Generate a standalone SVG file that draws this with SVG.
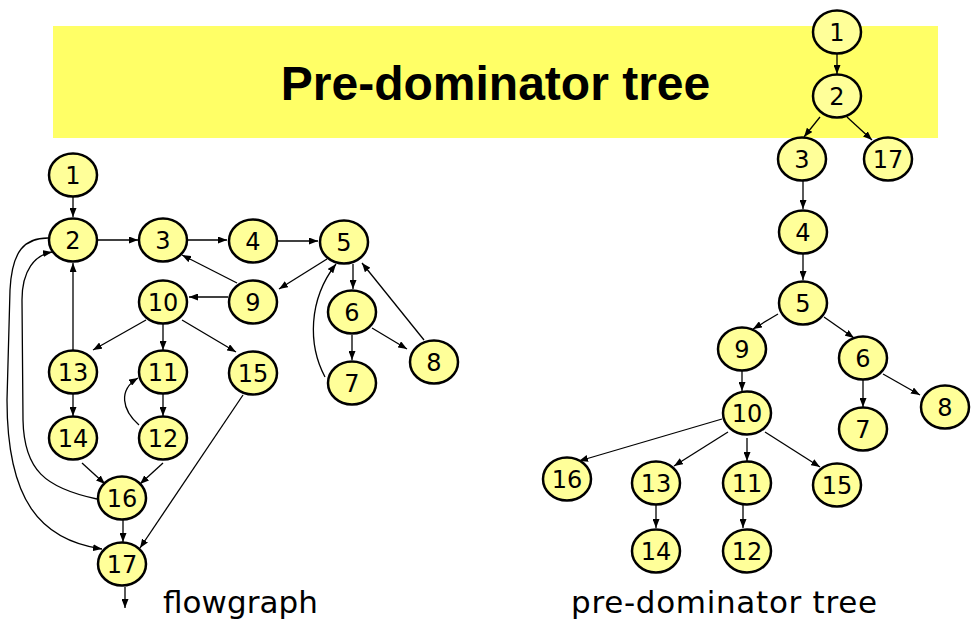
<svg xmlns="http://www.w3.org/2000/svg" width="971" height="623" viewBox="0 0 971 623">
  <style>
    .node ellipse { fill: #FFFF99; stroke: #000; stroke-width: 2.5; }
    .node text { font-family: "DejaVu Sans", Verdana, sans-serif; font-size: 24px; text-anchor: middle; fill: #000; }
    .edges path, .edges line { fill: none; stroke: #000; stroke-width: 1.3; marker-end: url(#arrow); }
    .caption { font-family: "DejaVu Sans", Verdana, sans-serif; font-size: 31px; fill: #000; }
    .title { font-family: "Liberation Sans", Arial, sans-serif; font-weight: bold; font-size: 48px; text-anchor: middle; fill: #000; }
  </style>
  <defs>
    <marker id="arrow" markerUnits="userSpaceOnUse" markerWidth="9" markerHeight="7" refX="9" refY="3.5" orient="auto">
      <path d="M0,0 L9,3.5 L0,7 z" fill="#000"/>
    </marker>
  </defs>

  <rect width="971" height="623" fill="#fff"/>

  <!-- title banner -->
  <rect x="53" y="26" width="885" height="112" fill="#FFFF66"/>
  <text class="title" x="495.5" y="100">Pre-dominator tree</text>

  <!-- connectors -->
  <g class="edges">
    <!-- flowgraph -->
    <line x1="73" y1="197" x2="73" y2="217"/>
    <line x1="98" y1="240" x2="138" y2="240"/>
    <line x1="188" y1="240" x2="227" y2="240"/>
    <line x1="278" y1="241" x2="318" y2="241"/>
    <line x1="327" y1="259" x2="279" y2="289"/>
    <line x1="237" y1="283" x2="182" y2="255"/>
    <line x1="228" y1="297" x2="189" y2="297"/>
    <line x1="353" y1="264" x2="353" y2="289"/>
    <line x1="352" y1="335" x2="352" y2="360"/>
    <line x1="372" y1="328" x2="407" y2="349"/>
    <line x1="424" y1="340" x2="362" y2="263"/>
    <path d="M325,377 C308,345 308,300 336,264"/>
    <line x1="146" y1="320" x2="93" y2="350"/>
    <line x1="163" y1="324" x2="163" y2="350"/>
    <line x1="182" y1="320" x2="236" y2="352"/>
    <line x1="73" y1="351" x2="73" y2="263"/>
    <line x1="73" y1="394" x2="73" y2="416"/>
    <line x1="163" y1="394" x2="163" y2="416"/>
    <path d="M139,425 C122,410 118,390 138,378"/>
    <line x1="82" y1="463" x2="105" y2="484"/>
    <line x1="163" y1="463" x2="140" y2="484"/>
    <line x1="243" y1="395" x2="140" y2="548"/>
    <line x1="123" y1="520" x2="123" y2="542"/>
    <path d="M48,238 C25,238 12,250 10,290 L7,400 C7,500 40,540 102,549"/>
    <path d="M97,499 C45,488 24,470 23,420 L22,300 C22,270 35,255 52,252"/>
    <line x1="125" y1="587" x2="125" y2="608"/>

    <!-- pre-dominator tree -->
    <line x1="837" y1="54" x2="837" y2="74"/>
    <line x1="820" y1="117" x2="804" y2="137"/>
    <line x1="847" y1="117" x2="872" y2="140"/>
    <line x1="803" y1="181" x2="803" y2="209"/>
    <line x1="803" y1="254" x2="803" y2="280"/>
    <line x1="778" y1="314" x2="753" y2="329"/>
    <line x1="824" y1="317" x2="854" y2="338"/>
    <line x1="742" y1="370" x2="742" y2="391"/>
    <line x1="863" y1="380" x2="863" y2="407"/>
    <line x1="883" y1="374" x2="920" y2="395"/>
    <line x1="722" y1="419" x2="579" y2="461"/>
    <line x1="728" y1="432" x2="674" y2="466"/>
    <line x1="747" y1="438" x2="747" y2="461"/>
    <line x1="765" y1="432" x2="820" y2="467"/>
    <line x1="656" y1="505" x2="656" y2="528"/>
    <line x1="743" y1="505" x2="743" y2="528"/>
  </g>

  <!-- flowgraph nodes -->
  <g id="fg-1" class="node"><ellipse cx="73" cy="175" rx="24" ry="21.5"/><text x="73" y="183.5">1</text></g>
  <g id="fg-2" class="node"><ellipse cx="73" cy="240" rx="24" ry="21.5"/><text x="73" y="248.5">2</text></g>
  <g id="fg-3" class="node"><ellipse cx="163" cy="240" rx="24" ry="21.5"/><text x="163" y="248.5">3</text></g>
  <g id="fg-4" class="node"><ellipse cx="253" cy="241" rx="24" ry="21.5"/><text x="253" y="249.5">4</text></g>
  <g id="fg-5" class="node"><ellipse cx="344" cy="242" rx="24" ry="21.5"/><text x="344" y="250.5">5</text></g>
  <g id="fg-6" class="node"><ellipse cx="352" cy="312" rx="24" ry="21.5"/><text x="352" y="320.5">6</text></g>
  <g id="fg-7" class="node"><ellipse cx="352" cy="383" rx="24" ry="21.5"/><text x="352" y="391.5">7</text></g>
  <g id="fg-8" class="node"><ellipse cx="434" cy="362" rx="24" ry="21.5"/><text x="434" y="370.5">8</text></g>
  <g id="fg-9" class="node"><ellipse cx="253" cy="302" rx="24" ry="21.5"/><text x="253" y="310.5">9</text></g>
  <g id="fg-10" class="node"><ellipse cx="163" cy="302" rx="24" ry="21.5"/><text x="163" y="310.5">10</text></g>
  <g id="fg-11" class="node"><ellipse cx="163" cy="372" rx="24" ry="21.5"/><text x="163" y="380.5">11</text></g>
  <g id="fg-12" class="node"><ellipse cx="163" cy="438" rx="24" ry="21.5"/><text x="163" y="446.5">12</text></g>
  <g id="fg-13" class="node"><ellipse cx="73" cy="372" rx="24" ry="21.5"/><text x="73" y="380.5">13</text></g>
  <g id="fg-14" class="node"><ellipse cx="73" cy="438" rx="24" ry="21.5"/><text x="73" y="446.5">14</text></g>
  <g id="fg-15" class="node"><ellipse cx="253" cy="373" rx="24" ry="21.5"/><text x="253" y="381.5">15</text></g>
  <g id="fg-16" class="node"><ellipse cx="122" cy="498" rx="24" ry="21.5"/><text x="122" y="506.5">16</text></g>
  <g id="fg-17" class="node"><ellipse cx="122" cy="564" rx="24" ry="21.5"/><text x="122" y="572.5">17</text></g>

  <!-- pre-dominator tree nodes -->
  <g id="pd-1" class="node"><ellipse cx="837" cy="32" rx="24" ry="21.5"/><text x="837" y="40.5">1</text></g>
  <g id="pd-2" class="node"><ellipse cx="837" cy="96" rx="24" ry="21.5"/><text x="837" y="104.5">2</text></g>
  <g id="pd-3" class="node"><ellipse cx="802" cy="159" rx="24" ry="21.5"/><text x="802" y="167.5">3</text></g>
  <g id="pd-17" class="node"><ellipse cx="888" cy="159" rx="24" ry="21.5"/><text x="888" y="167.5">17</text></g>
  <g id="pd-4" class="node"><ellipse cx="803" cy="232" rx="24" ry="21.5"/><text x="803" y="240.5">4</text></g>
  <g id="pd-5" class="node"><ellipse cx="803" cy="303" rx="24" ry="21.5"/><text x="803" y="311.5">5</text></g>
  <g id="pd-9" class="node"><ellipse cx="742" cy="349" rx="24" ry="21.5"/><text x="742" y="357.5">9</text></g>
  <g id="pd-6" class="node"><ellipse cx="863" cy="358" rx="24" ry="21.5"/><text x="863" y="366.5">6</text></g>
  <g id="pd-8" class="node"><ellipse cx="945" cy="407" rx="24" ry="21.5"/><text x="945" y="415.5">8</text></g>
  <g id="pd-10" class="node"><ellipse cx="747" cy="413" rx="24" ry="21.5"/><text x="747" y="421.5">10</text></g>
  <g id="pd-7" class="node"><ellipse cx="863" cy="429" rx="24" ry="21.5"/><text x="863" y="437.5">7</text></g>
  <g id="pd-16" class="node"><ellipse cx="567" cy="479" rx="24" ry="21.5"/><text x="567" y="487.5">16</text></g>
  <g id="pd-13" class="node"><ellipse cx="656" cy="483" rx="24" ry="21.5"/><text x="656" y="491.5">13</text></g>
  <g id="pd-11" class="node"><ellipse cx="747" cy="483" rx="24" ry="21.5"/><text x="747" y="491.5">11</text></g>
  <g id="pd-15" class="node"><ellipse cx="837" cy="485" rx="24" ry="21.5"/><text x="837" y="493.5">15</text></g>
  <g id="pd-14" class="node"><ellipse cx="656" cy="551" rx="24" ry="21.5"/><text x="656" y="559.5">14</text></g>
  <g id="pd-12" class="node"><ellipse cx="747" cy="551" rx="24" ry="21.5"/><text x="747" y="559.5">12</text></g>

  <!-- captions -->
  <text class="caption" x="163" y="613" textLength="155" lengthAdjust="spacing">flowgraph</text>
  <text class="caption" x="571" y="613" textLength="306" lengthAdjust="spacing">pre-dominator tree</text>
</svg>
